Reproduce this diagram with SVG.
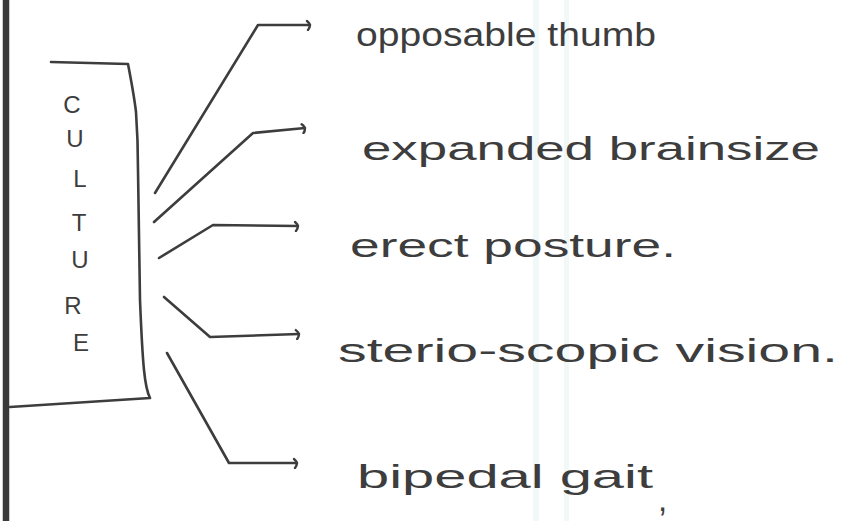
<svg xmlns="http://www.w3.org/2000/svg" width="849" height="521" viewBox="0 0 849 521">
  <defs>
    <style>
      .ink { fill: none; stroke: #3d3d3d; stroke-width: 2.6; stroke-linecap: round; stroke-linejoin: round; }
      .label { font-family: "Liberation Sans", "DejaVu Sans", sans-serif; font-size: 33px; fill: #3d3d3d; }
      .letter { font-family: "Liberation Sans", "DejaVu Sans", sans-serif; font-size: 24px; fill: #3d3d3d; text-anchor: middle; }
      .crease { fill: #f1f8f8; }
    </style>
    <marker id="hook" viewBox="-6 -6 12 12" markerWidth="12" markerHeight="12" refX="0" refY="0" markerUnits="userSpaceOnUse" orient="auto">
      <path d="M -3 -4 Q 2 0 -2 5" fill="none" stroke="#3d3d3d" stroke-width="2.4" stroke-linecap="round"/>
    </marker>
  </defs>

  <rect width="849" height="521" fill="#ffffff"/>

  <!-- paper creases -->
  <rect class="crease" x="533" y="0" width="6" height="521"/>
  <rect class="crease" x="564" y="0" width="5" height="521"/>

  <!-- page margin rule -->
  <line x1="6" y1="0" x2="6" y2="521" stroke="#3a3a3a" stroke-width="6.5"/>

  <!-- CULTURE box -->
  <g id="culture">
    <path class="ink" d="M 51 62 L 128 64 Q 134 95 136 112 Q 138 140 138 170 L 140 300 Q 142 350 144 370 Q 146 390 150 398 L 10 407"/>
    <text class="letter" x="72" y="113">C</text>
    <text class="letter" x="75" y="147">U</text>
    <text class="letter" x="80" y="187">L</text>
    <text class="letter" x="79" y="231">T</text>
    <text class="letter" x="80" y="268">U</text>
    <text class="letter" x="73" y="314">R</text>
    <text class="letter" x="81" y="351">E</text>
  </g>

  <!-- branches -->
  <g id="connectors">
    <path class="ink" d="M 155 193 L 258 25 L 310 25" marker-end="url(#hook)"/>
    <path class="ink" d="M 154 222 L 253 133 L 305 128" marker-end="url(#hook)"/>
    <path class="ink" d="M 159 258 L 213 225 L 298 226" marker-end="url(#hook)"/>
    <path class="ink" d="M 164 297 L 210 337 L 299 334" marker-end="url(#hook)"/>
    <path class="ink" d="M 167 353 L 229 463 L 297 463" marker-end="url(#hook)"/>
  </g>

  <!-- traits -->
  <g id="trait-thumb">
    <text class="label" x="356" y="46" textLength="300" lengthAdjust="spacingAndGlyphs">opposable thumb</text>
  </g>
  <g id="trait-brain">
    <text class="label" x="362" y="160" textLength="458" lengthAdjust="spacingAndGlyphs">expanded brainsize</text>
  </g>
  <g id="trait-posture">
    <text class="label" x="350" y="257" textLength="326" lengthAdjust="spacingAndGlyphs">erect posture.</text>
  </g>
  <g id="trait-vision">
    <text class="label" x="338" y="362" textLength="500" lengthAdjust="spacingAndGlyphs">sterio-scopic vision.</text>
  </g>
  <g id="trait-gait">
    <text class="label" x="357" y="488" textLength="296" lengthAdjust="spacingAndGlyphs">bipedal gait</text>
    <text class="label" x="658" y="511" font-size="26">,</text>
  </g>
</svg>
